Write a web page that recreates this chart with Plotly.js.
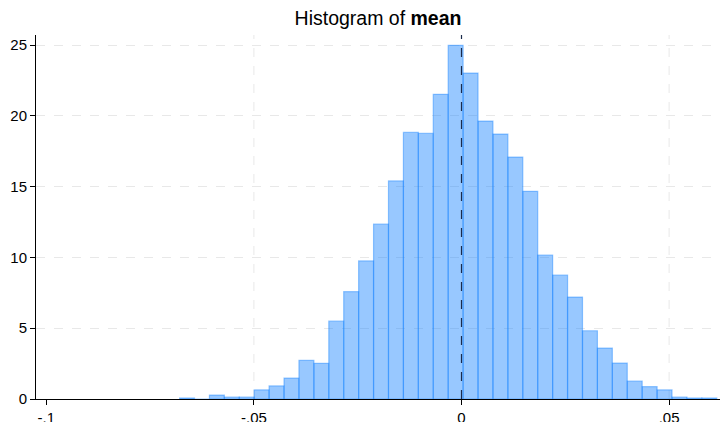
<!DOCTYPE html>
<html>
<head>
<meta charset="utf-8">
<script src="https://cdn.plot.ly/plotly-3.0.1.min.js"></script>
<style>html,body{margin:0;padding:0;background:#fff;}#chart{width:720px;height:422px;}</style>
</head>
<body>
<div id="chart"></div>
<script>
// Histogram bins (density) of "mean"
var binStart = -0.0679;
var binWidth = 0.003594;
var density = [0.07, 0, 0.28, 0.14, 0.14, 0.64, 0.92, 1.48, 2.73, 2.52,
               5.5, 7.58, 9.75, 12.36, 15.4, 18.83, 18.76, 21.52, 24.98, 23.02,
               19.63, 18.71, 17.09, 14.67, 10.17, 8.76, 7.2, 4.82, 3.6, 2.54,
               1.27, 0.87, 0.64, 0.14, 0.07, 0.07];
var meanLine = 0;
var xTickVals = [-0.1, -0.05, 0, 0.05];
var xTickText = ['-.1', '-.05', '0', '.05'];
var xGridVals = [-0.05, 0.05];
var yTickVals = [0, 5, 10, 15, 20, 25];

var centers = density.map(function(d, i){ return binStart + binWidth * (i + 0.5); });

var trace = {
  type: 'bar',
  x: centers,
  y: density,
  width: binWidth,
  marker: {color: 'rgba(26,133,255,0.45)', line: {color: 'rgba(26,133,255,0.45)', width: 1.2}},
  hoverinfo: 'x+y'
};

var shapes = xGridVals.map(function(v){
  return {type: 'line', xref: 'x', yref: 'paper', x0: v, x1: v, y0: 0, y1: 1, layer: 'below',
          line: {color: '#e8e8e8', width: 1, dash: 'dash'}};
});
shapes.push({type: 'line', xref: 'x', yref: 'paper', x0: meanLine, x1: meanLine, y0: 0, y1: 1,
             line: {color: '#1c2b4a', width: 1.2, dash: 'dash'}});

var layout = {
  width: 720, height: 422,
  margin: {l: 36, r: 0, t: 35, b: 23},
  paper_bgcolor: '#fff', plot_bgcolor: '#fff',
  showlegend: false,
  font: {family: 'Liberation Sans, Arial, sans-serif', color: '#000', size: 15},
  title: {text: 'Histogram of <b>mean</b>', x: 0.525, xanchor: 'center', y: 0.94, yanchor: 'bottom', yref: 'container', font: {size: 19.5, color: '#000'}},
  xaxis: {
    range: [-0.10248, 0.06226],
    tickvals: xTickVals, ticktext: xTickText,
    ticks: 'outside', ticklen: 5, tickcolor: '#000', tickwidth: 1,
    showline: true, linecolor: '#000', linewidth: 1,
    showgrid: false,
    zeroline: false, tickfont: {size: 15}
  },
  yaxis: {
    range: [0, 25.71],
    tickvals: yTickVals,
    ticks: 'outside', ticklen: 5, tickcolor: '#000', tickwidth: 1,
    showline: true, linecolor: '#000', linewidth: 1,
    showgrid: true, gridcolor: '#e8e8e8', griddash: 'dash', gridwidth: 1,
    zeroline: false, tickfont: {size: 15}
  },
  bargap: 0,
  shapes: shapes
};

Plotly.newPlot('chart', [trace], layout, {displayModeBar: false, staticPlot: true});
</script>
</body>
</html>
